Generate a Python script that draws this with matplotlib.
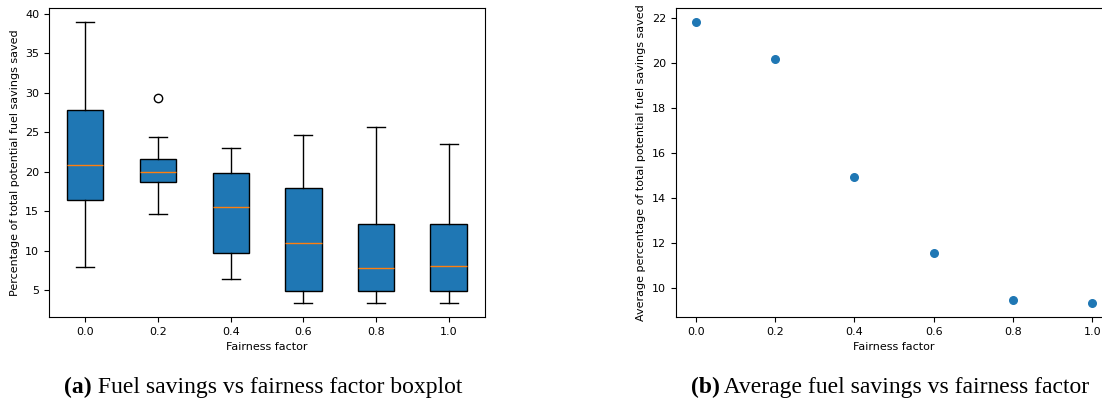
import matplotlib
import matplotlib.pyplot as plt
matplotlib.use('Agg')

# fairness factor categories
factors = ["0.0", "0.2", "0.4", "0.6", "0.8", "1.0"]
factor_vals = [0.0, 0.2, 0.4, 0.6, 0.8, 1.0]

# boxplot stats
whisker_low = [7.9, 14.65, 6.43, 3.39, 3.39, 3.39]
q1 = [16.38, 18.7, 9.68, 4.95, 4.95, 4.95]
medians = [20.81, 19.97, 15.54, 10.98, 7.87, 8.08]
q3 = [27.85, 21.65, 19.8, 17.98, 13.39, 13.39]
whisker_high = [38.95, 24.44, 23.0, 24.65, 25.7, 23.46]
outliers = [[], [29.33], [], [], [], []]

# averages for the scatter plot
avg_savings = [21.82, 20.2, 14.94, 11.57, 9.47, 9.35]

W, H = 1102, 400
fig = plt.figure(figsize=(W / 100, H / 100), dpi=100)

label_size = 8

ax1 = fig.add_axes([49 / W, 1 - 317 / H, (485 - 49) / W, (317 - 8) / H])
stats = []
for i in range(len(factors)):
    stats.append({
        'whislo': whisker_low[i], 'q1': q1[i], 'med': medians[i],
        'q3': q3[i], 'whishi': whisker_high[i], 'fliers': outliers[i],
    })
ax1.bxp(stats, patch_artist=True, widths=0.5,
        boxprops=dict(facecolor='#1f77b4', edgecolor='black'),
        medianprops=dict(color='#ff7f0e'))
ax1.set_xticks(range(1, len(factors) + 1))
ax1.set_xticklabels(factors)
ax1.set_xlabel("Fairness factor", fontsize=label_size)
ax1.set_ylabel("Percentage of total potential fuel savings saved", fontsize=label_size)
ax1.tick_params(labelsize=label_size)

ax2 = fig.add_axes([676 / W, 1 - 317 / H, (1112 - 676) / W, (317 - 8) / H])
ax2.scatter(factor_vals, avg_savings, color='#1f77b4', s=30)
ax2.set_xlabel("Fairness factor", fontsize=label_size)
ax2.set_ylabel("Average percentage of total potential fuel savings saved", fontsize=label_size)
ax2.tick_params(labelsize=label_size)


# captions: bold "(x)" followed by regular text, centred under each axes
def caption(cx, tag, text, y=393):
    fy = 1 - y / H
    t1 = fig.text(0, fy, tag, family='Liberation Serif', weight='bold',
                  fontsize=17, va='baseline')
    t2 = fig.text(0, fy, " " + text, family='Liberation Serif',
                  fontsize=17, va='baseline')
    r = fig.canvas.get_renderer()
    w1 = t1.get_window_extent(r).width
    w2 = t2.get_window_extent(r).width
    left = cx - (w1 + w2) / 2
    t1.set_x(left / W)
    t2.set_x((left + w1) / W)


caption(263, "(a)", "Fuel savings vs fairness factor boxplot")
caption(890, "(b)", "Average fuel savings vs fairness factor")

plt.savefig("out.png", dpi=100)
plt.close()
